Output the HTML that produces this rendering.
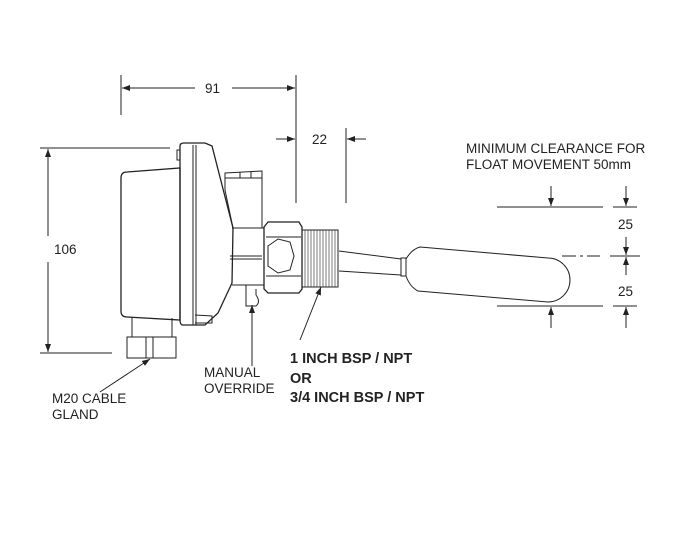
<!DOCTYPE html><html><head><style>body{margin:0;background:#fff}svg{display:block}text{font-family:"Liberation Sans",sans-serif;font-size:13.5px;fill:#222}</style></head><body>
<svg width="682" height="552" viewBox="0 0 682 552" xmlns="http://www.w3.org/2000/svg">
<defs><marker id="a" markerWidth="8" markerHeight="6" refX="8" refY="3" orient="auto"><path d="M0,0L8,3L0,6z" fill="#222"/></marker></defs>
<g stroke="#222" stroke-width="1" fill="none">
<line x1="121" y1="75" x2="121" y2="115"/><line x1="296" y1="75" x2="296" y2="203"/>
<line x1="195" y1="88" x2="122" y2="88" marker-end="url(#a)"/><line x1="232" y1="88" x2="295" y2="88" marker-end="url(#a)"/>
<line x1="346" y1="128" x2="346" y2="203"/>
<line x1="276" y1="139" x2="295" y2="139" marker-end="url(#a)"/><line x1="366" y1="139" x2="347" y2="139" marker-end="url(#a)"/>
<line x1="40" y1="148" x2="170" y2="148"/><line x1="40" y1="353" x2="112" y2="353"/>
<line x1="48" y1="236" x2="48" y2="149" marker-end="url(#a)"/><line x1="48" y1="262" x2="48" y2="352" marker-end="url(#a)"/>
<path d="M121,178 Q121,172 127,172 L180,168 L180,320 L127,317 Q121,317 121,311 Z" stroke-width="1.3"/>
<path d="M177,150 L180,150 L180,160 L177,160 Z"/>
<path d="M180,146 Q180,143 184,143 L205,143 L212,146 L233,228 L232,283 L218,313 L205,325 L183,325 Q180,325 180,320 Z" stroke-width="1.3"/>
<line x1="193" y1="145" x2="193" y2="325"/><line x1="196" y1="145" x2="196" y2="325"/>
<path d="M195,315 L212,316 L212,323 L195,323"/>
<path d="M225,173 L262,171 L262,228 L233,228 L225,190 Z"/><line x1="225" y1="178" x2="262" y2="178"/><line x1="240" y1="172" x2="240" y2="178"/><line x1="251" y1="172" x2="251" y2="178"/>
<path d="M232,228 L264,228 L264,285 L232,285"/><line x1="230" y1="256" x2="262" y2="256"/><line x1="230" y1="259" x2="262" y2="259"/>
<path d="M246,285 L246,306 L256,306 Q261,302 256,295 L256,289"/>
<path d="M264,227 L268,222 L299,222 L302,227 L302,289 L299,293 L268,293 L264,289 Z" stroke-width="1.3"/>
<line x1="266" y1="237" x2="301" y2="237"/><line x1="266" y1="276" x2="301" y2="276"/>
<path d="M268,246 L278,239 L290,242 L294,256 L290,270 L278,273 L268,266 Z"/>
<rect x="302" y="230" width="36" height="57"/>
<g stroke-width="0.6"><line x1="305" y1="230" x2="305" y2="287"/><line x1="308" y1="230" x2="308" y2="287"/><line x1="311" y1="230" x2="311" y2="287"/><line x1="314" y1="230" x2="314" y2="287"/><line x1="317" y1="230" x2="317" y2="287"/><line x1="320" y1="230" x2="320" y2="287"/><line x1="323" y1="230" x2="323" y2="287"/><line x1="326" y1="230" x2="326" y2="287"/><line x1="329" y1="230" x2="329" y2="287"/><line x1="332" y1="230" x2="332" y2="287"/><line x1="335" y1="230" x2="335" y2="287"/></g>
<path d="M339,251 L401,259 M339,271 L401,275"/>
<rect x="401" y="258" width="5" height="18"/>
<path d="M406,259 Q412,249 420,247 L548,258 A22,22 0 0 1 548,302 L418,291 Q410,287 406,276"/>
<rect x="127" y="337" width="49" height="21"/><line x1="146" y1="337" x2="146" y2="358"/><line x1="153" y1="337" x2="153" y2="358"/>
<line x1="132" y1="317" x2="132" y2="337"/><line x1="172" y1="318" x2="172" y2="337"/>
<line x1="497" y1="207" x2="603" y2="207"/><line x1="613" y1="207" x2="637" y2="207"/>
<line x1="497" y1="306" x2="603" y2="306"/><line x1="613" y1="306" x2="637" y2="306"/>
<line x1="562" y1="256" x2="600" y2="256" stroke-dasharray="14,4,3,4"/><line x1="610" y1="256" x2="640" y2="256"/>
<line x1="551" y1="186" x2="551" y2="206" marker-end="url(#a)"/><line x1="626" y1="186" x2="626" y2="206" marker-end="url(#a)"/>
<line x1="551" y1="328" x2="551" y2="307" marker-end="url(#a)"/><line x1="626" y1="328" x2="626" y2="307" marker-end="url(#a)"/>
<line x1="626" y1="237" x2="626" y2="255" marker-end="url(#a)"/><line x1="626" y1="275" x2="626" y2="257" marker-end="url(#a)"/>
<line x1="100" y1="392" x2="150" y2="359" marker-end="url(#a)"/>
<line x1="252" y1="366" x2="252" y2="305" marker-end="url(#a)"/>
<line x1="300" y1="340" x2="321" y2="287" marker-end="url(#a)"/>
</g>
<text x="205" y="93">91</text><text x="312" y="144">22</text><text x="54" y="254">106</text>
<text x="466" y="153">MINIMUM CLEARANCE FOR</text><text x="466" y="169">FLOAT MOVEMENT 50mm</text>
<text x="618" y="229">25</text><text x="618" y="296">25</text>
<text x="52" y="403">M20 CABLE</text><text x="52" y="419">GLAND</text>
<text x="204" y="377">MANUAL</text><text x="204" y="393">OVERRIDE</text>
<text x="290" y="363" style="font-weight:bold;font-size:14.5px">1 INCH BSP / NPT</text><text x="290" y="383" style="font-weight:bold;font-size:14.5px">OR</text><text x="290" y="402" style="font-weight:bold;font-size:14.5px">3/4 INCH BSP / NPT</text>
</svg></body></html>
